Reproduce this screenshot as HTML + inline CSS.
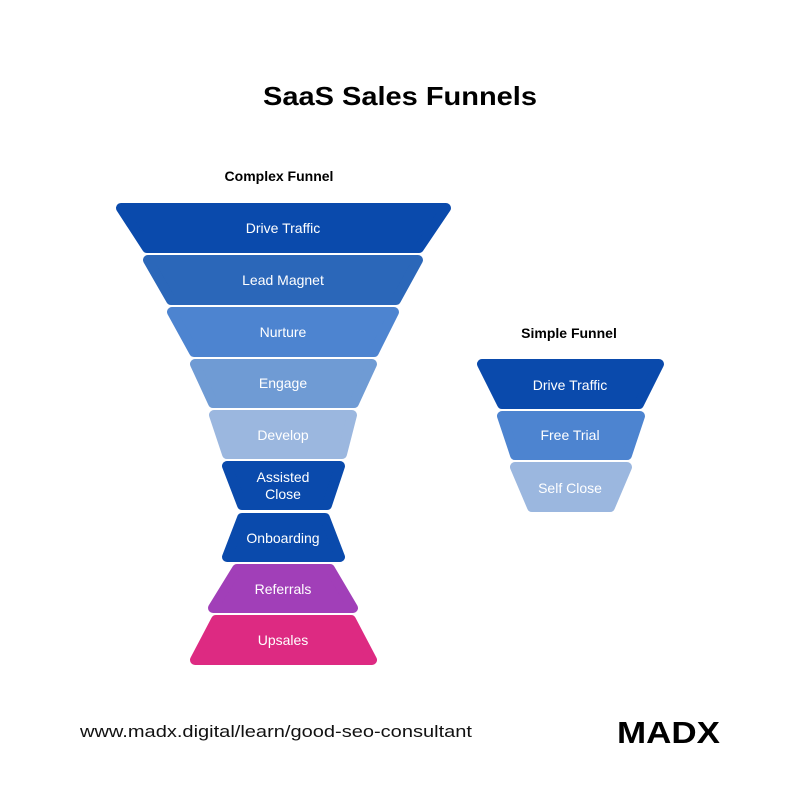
<!DOCTYPE html>
<html><head><meta charset="utf-8"><style>
html,body{margin:0;padding:0;background:#fff;}
svg{display:block}
</style></head><body>
<svg width="800" height="800" viewBox="0 0 800 800" xmlns="http://www.w3.org/2000/svg" font-family="'Liberation Sans', sans-serif">
<rect width="800" height="800" fill="#fff"/>
<text x="263" y="105" textLength="274" lengthAdjust="spacingAndGlyphs" font-size="26" font-weight="bold" fill="#000">SaaS Sales Funnels</text>
<text x="279" y="181" text-anchor="middle" font-size="14" font-weight="bold" fill="#000">Complex Funnel</text>
<text x="569" y="338" text-anchor="middle" font-size="14" font-weight="bold" fill="#000">Simple Funnel</text>
<g stroke-linejoin="round" stroke-width="10">
<polygon points="121,208 446,208 419,248 147,248" fill="#0a4aac" stroke="#0a4aac"/>
<polygon points="148,260 418,260 396,300 171,300" fill="#2b67b9" stroke="#2b67b9"/>
<polygon points="172,312 394,312 374,352 194,352" fill="#4d84d0" stroke="#4d84d0"/>
<polygon points="195,364 372,364 354,403 213,403" fill="#6f9bd4" stroke="#6f9bd4"/>
<polygon points="214,415 352,415 342,454 227,454" fill="#9bb7df" stroke="#9bb7df"/>
<polygon points="227,466 340,466 327,505 242,505" fill="#0a4aac" stroke="#0a4aac"/>
<polygon points="242,518 325,518 340,557 227,557" fill="#0a4aac" stroke="#0a4aac"/>
<polygon points="237,569 330,569 353,608 213,608" fill="#a13fb8" stroke="#a13fb8"/>
<polygon points="216,620 351,620 372,660 195,660" fill="#dd2a82" stroke="#dd2a82"/>
<polygon points="482,364 659,364 639,404 502,404" fill="#0a4aac" stroke="#0a4aac"/>
<polygon points="502,416 640,416 627,455 515,455" fill="#4d84d0" stroke="#4d84d0"/>
<polygon points="515,467 627,467 610,507 532,507" fill="#9bb7df" stroke="#9bb7df"/>
</g>
<g fill="#fff" font-size="14" text-anchor="middle">
<text x="283" y="233">Drive Traffic</text>
<text x="283" y="285">Lead Magnet</text>
<text x="283" y="337">Nurture</text>
<text x="283" y="388">Engage</text>
<text x="283" y="440">Develop</text>
<text x="283" y="482">Assisted</text>
<text x="283" y="499">Close</text>
<text x="283" y="543">Onboarding</text>
<text x="283" y="594">Referrals</text>
<text x="283" y="645">Upsales</text>
<text x="570" y="390">Drive Traffic</text>
<text x="570" y="440">Free Trial</text>
<text x="570" y="493">Self Close</text>
</g>
<text x="80" y="737" textLength="392" lengthAdjust="spacingAndGlyphs" font-size="17" fill="#111">www.madx.digital/learn/good-seo-consultant</text>
<text x="617" y="743" textLength="103" lengthAdjust="spacingAndGlyphs" font-size="31" font-weight="bold" fill="#000">MADX</text>
</svg>
</body></html>
